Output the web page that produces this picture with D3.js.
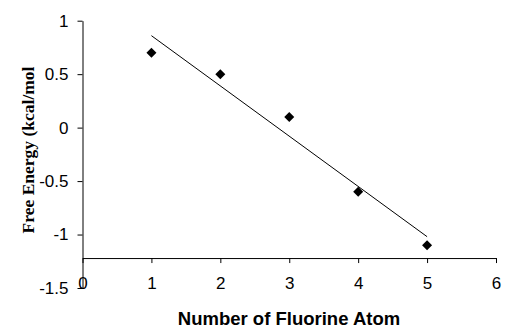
<!DOCTYPE html>
<html>
<head>
<meta charset="utf-8">
<script src="https://cdn.jsdelivr.net/npm/d3@7"></script>
<style>
  body { margin: 0; background: #fff; }
  svg { display: block; }
</style>
</head>
<body>
<div id="chart"></div>
<script>
// data
const fluorineCount = [1, 2, 3, 4, 5];
const freeEnergy = [0.7, 0.5, 0.1, -0.6, -1.1];
const xTicks = [0, 1, 2, 3, 4, 5, 6];
const yTicks = [1, 0.5, 0, -0.5, -1, -1.5];

const width = 505, height = 328;
const xCross = -1.22; // where the x axis crosses the y axis

const svg = d3.select('#chart').append('svg')
    .attr('width', width)
    .attr('height', height);

const x = d3.scaleLinear().domain([0, 6]).range([82.5, 496]);
const y = d3.scaleLinear().domain([-1.5, 1]).range([288, 20.7]);

const tickFont = '17px "Liberation Sans", Arial, sans-serif';

// y axis
svg.append('g')
    .attr('transform', `translate(${x(0)},0)`)
    .call(d3.axisLeft(y).tickValues(yTicks).tickSize(5).tickSizeOuter(0).tickPadding(9)
      .tickFormat(d => String(d)))
    .call(g => g.selectAll('text').style('font', tickFont).attr('fill', '#000'))
    .call(g => g.selectAll('line, path').attr('stroke', '#000'));

// x axis
svg.append('g')
    .attr('transform', `translate(0,${y(xCross)})`)
    .call(d3.axisBottom(x).tickValues(xTicks).tickSize(5).tickSizeOuter(0).tickPadding(14)
      .tickFormat(d3.format('d')))
    .call(g => g.selectAll('text').style('font', tickFont).attr('fill', '#000'))
    .call(g => g.selectAll('line, path').attr('stroke', '#000'));

// linear trendline (least squares)
const n = fluorineCount.length;
const mx = d3.mean(fluorineCount), my = d3.mean(freeEnergy);
let sxy = 0, sxx = 0;
for (let i = 0; i < n; i++) {
  sxy += (fluorineCount[i] - mx) * (freeEnergy[i] - my);
  sxx += (fluorineCount[i] - mx) ** 2;
}
const slope = sxy / sxx, intercept = my - slope * mx;
const x0 = d3.min(fluorineCount), x1 = d3.max(fluorineCount);

svg.append('line')
    .attr('x1', x(x0)).attr('y1', y(intercept + slope * x0))
    .attr('x2', x(x1)).attr('y2', y(intercept + slope * x1))
    .attr('stroke', '#000')
    .attr('stroke-width', 1);

// diamond markers
svg.append('g')
  .selectAll('path')
  .data(fluorineCount)
  .join('path')
    .attr('d', d3.symbol(d3.symbolSquare, 50))
    .attr('transform', (d, i) => `translate(${x(d)},${y(freeEnergy[i])}) rotate(45)`)
    .attr('fill', '#000');

// axis titles
svg.append('text')
    .attr('x', 289)
    .attr('y', 325)
    .attr('text-anchor', 'middle')
    .style('font', 'bold 18.5px "Liberation Sans", Arial, sans-serif')
    .text('Number of Fluorine Atom');

svg.append('text')
    .attr('transform', `translate(34,150) rotate(-90)`)
    .attr('text-anchor', 'middle')
    .style('font', 'bold 17.5px "Liberation Serif", "Times New Roman", serif')
    .text('Free Energy (kcal/mol');
</script>
</body>
</html>
